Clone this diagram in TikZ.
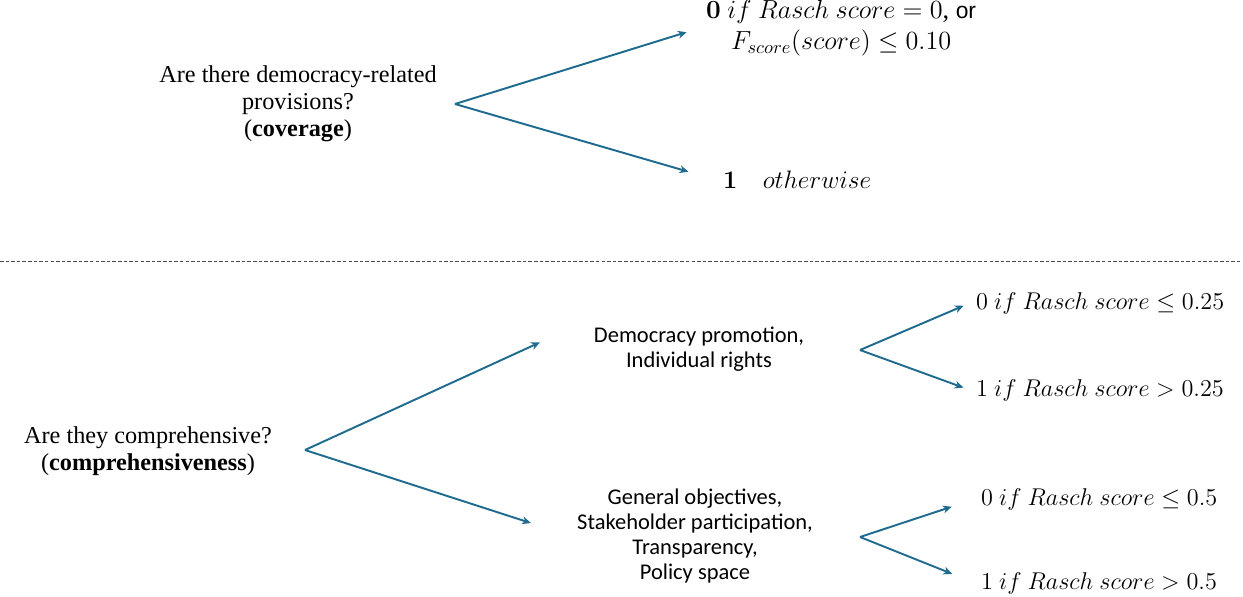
\RequirePackage{fix-cm}
\documentclass[tikz,border=0pt]{standalone}
\usepackage[no-math]{fontspec}
\setmainfont{Liberation Serif}
\newfontfamily\labelfont{Carlito}
\newfontfamily\orfont{Liberation Sans}
\usepackage{amsmath}
\usepackage{amssymb}
\usepackage{tikz}
\usetikzlibrary{arrows.meta,positioning}
\definecolor{branchblue}{HTML}{1F6A8F}

\begin{document}
\begin{tikzpicture}[x=0.02cm, y=-0.02cm,
    question/.style={align=center, font=\fontsize{13.8}{15.5}\selectfont},
    category/.style={align=center, font=\labelfont\fontsize{12.8}{14.4}\selectfont},
    outcome/.style={align=center, anchor=west, font=\fontsize{14.4}{17}\selectfont},
    scorerule/.style={outcome, font=\fontsize{13.8}{17}\selectfont},
    branch/.style={draw=branchblue, line width=1.1pt, -{Stealth[length=5pt,width=4.5pt]}},
    divider/.style={draw=black!70, line width=0.5pt, dash pattern=on 2pt off 1.2pt}]
      \useasboundingbox (0,0) rectangle (1243,596);
      % Define nodes
      \node[question] (cov) at (298,104) {Are there democracy-related\\provisions?\\(\textbf{coverage})};
      \coordinate (fork1) at (455,104);
      \node[outcome, font=\fontsize{14.9}{17.5}\selectfont] (zero) at (700,28) {$\mathbf{0}\ if\ Rasch\ score=0$, {\orfont\fontsize{13}{15}\selectfont or}\\$F_{score}(score)\le 0.10$};
      \node[outcome] (one) at (717,180) {$\mathbf{1}\quad otherwise$};
      \node[question] (comp) at (148,451) {Are they comprehensive?\\(\textbf{comprehensiveness})};
      \coordinate (fork2) at (305,450);
      \node[category] (demo) at (699,349) {Democracy promotion,\\Individual rights};
      \node[category] (gen) at (695,536) {General objectives,\\Stakeholder participation,\\Transparency,\\Policy space};
      \coordinate (fork3) at (860,350);
      \coordinate (fork4) at (860,537);
      \node[scorerule] (r1) at (970,303) {$0\ if\ Rasch\ score\le 0.25$};
      \node[scorerule] (r2) at (970,390) {$1\ if\ Rasch\ score> 0.25$};
      \node[scorerule] (r3) at (975,499) {$0\ if\ Rasch\ score\le 0.5$};
      \node[scorerule] (r4) at (975,583) {$1\ if\ Rasch\ score> 0.5$};
      \coordinate (divl) at (0,261);
      \coordinate (divr) at (1243,261);
      % Connect nodes
      \draw[divider] (divl) -- (divr);
      \draw[branch, shorten >=8pt] (fork1) -- (zero.west);
      \draw[branch, shorten >=17pt] (fork1) -- (one.west);
      \draw[branch, shorten >=30pt] (fork2) -- (demo.north west);
      \draw[branch, shorten >=24pt] (fork2) -- (gen.west);
      \draw[branch, shorten >=4pt] (fork3) -- (r1.west);
      \draw[branch, shorten >=4pt] (fork3) -- (r2.west);
      \draw[branch, shorten >=14pt] (fork4) -- (r3.west);
      \draw[branch, shorten >=14pt] (fork4) -- (r4.west);
\end{tikzpicture}
\end{document}
